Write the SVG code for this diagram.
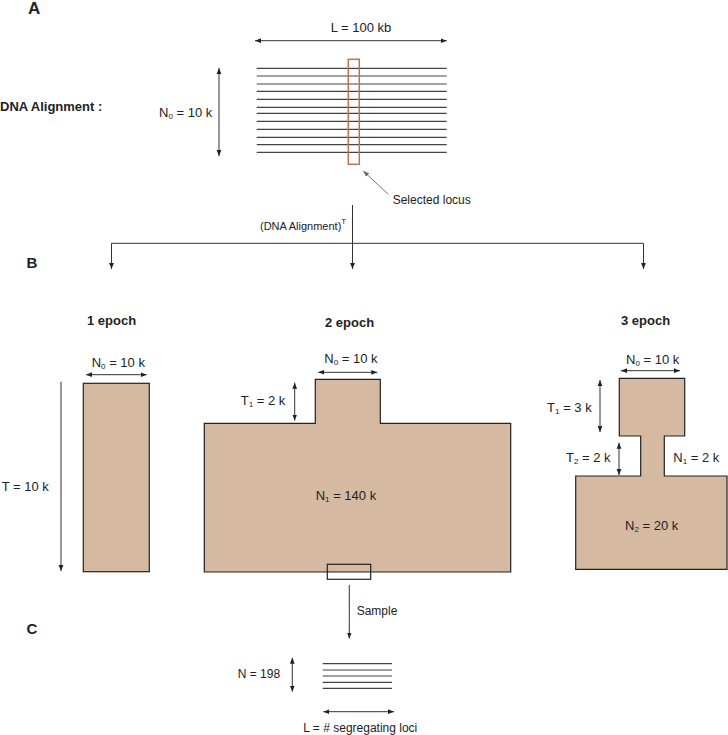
<svg xmlns="http://www.w3.org/2000/svg" width="728" height="735" viewBox="0 0 728 735">
<style>
text{font-family:"Liberation Sans",Arial,sans-serif;fill:#222}
.b{font-weight:bold}
.t13{font-size:13px}
.t12{font-size:12px}
.sub{font-size:8px}
.ln{stroke:#333;stroke-width:1;fill:none}
.al{stroke:#444;stroke-width:1.2}
.pop{fill:#d5baa1;stroke:#222;stroke-width:1.2}
</style>
<defs>
<marker id="ah" viewBox="0 0 10 10" refX="10" refY="5" markerWidth="6" markerHeight="6" markerUnits="userSpaceOnUse" orient="auto-start-reverse">
<path d="M0,1 L10,5 L0,9 z" fill="#222"/>
</marker>
<marker id="ahg" viewBox="0 0 10 10" refX="10" refY="5" markerWidth="6" markerHeight="6" markerUnits="userSpaceOnUse" orient="auto-start-reverse">
<path d="M0,1 L10,5 L0,9 z" fill="#666"/>
</marker>
</defs>
<rect width="728" height="735" fill="#fff"/>

<g id="panel-labels">
<text class="b" x="28" y="14" font-size="17">A</text>
<text class="b" x="26.5" y="268" font-size="15">B</text>
<text class="b" x="26.5" y="634" font-size="15">C</text>
</g>

<g id="alignment">
<text class="b t13" x="0" y="111">DNA Alignment :</text>
<text class="t13" x="361" y="32" text-anchor="middle">L = 100 kb</text>
<text class="t13" x="159" y="117">N<tspan class="sub" dy="2">0</tspan><tspan dy="-2"> = 10 k</tspan></text>
<g class="al">
<line x1="256.7" y1="68.3" x2="446.7" y2="68.3"/>
<line x1="256.7" y1="76" x2="446.7" y2="76"/>
<line x1="256.7" y1="84" x2="446.7" y2="84"/>
<line x1="256.7" y1="91.3" x2="446.7" y2="91.3"/>
<line x1="256.7" y1="99.3" x2="446.7" y2="99.3"/>
<line x1="256.7" y1="107.3" x2="446.7" y2="107.3"/>
<line x1="256.7" y1="113.3" x2="446.7" y2="113.3"/>
<line x1="256.7" y1="121.3" x2="446.7" y2="121.3"/>
<line x1="256.7" y1="129.3" x2="446.7" y2="129.3"/>
<line x1="256.7" y1="137.3" x2="446.7" y2="137.3"/>
<line x1="256.7" y1="144.7" x2="446.7" y2="144.7"/>
<line x1="256.7" y1="152.3" x2="446.7" y2="152.3"/>
</g>
<rect id="locus" x="348.3" y="59.3" width="11" height="105" fill="none" stroke="#b8764f" stroke-width="1.5"/>
<text class="t12" x="392.7" y="204">Selected locus</text>
</g>

<g id="epoch1">
<text class="b t13" x="87" y="325">1 epoch</text>
<rect class="pop" x="83.3" y="383.3" width="66" height="188.4"/>
<text class="t13" x="91.7" y="367">N<tspan class="sub" dy="2">0</tspan><tspan dy="-2"> = 10 k</tspan></text>
<text class="t13" x="1.7" y="491">T = 10 k</text>
</g>

<g id="epoch2">
<text class="b t13" x="325" y="327">2 epoch</text>
<path class="pop" d="M315.3,379.3 H380.3 V423.3 H510.7 V572 H204.3 V423.3 H315.3 Z"/>
<text class="t13" x="324.3" y="363.3">N<tspan class="sub" dy="2">0</tspan><tspan dy="-2"> = 10 k</tspan></text>
<text class="t13" x="240.7" y="405.3">T<tspan class="sub" dy="2">1</tspan><tspan dy="-2"> = 2 k</tspan></text>
<text class="t13" x="315.7" y="500">N<tspan class="sub" dy="2">1</tspan><tspan dy="-2"> = 140 k</tspan></text>
<rect id="sample-box" x="327.3" y="564.3" width="43.4" height="15" fill="none" stroke="#222" stroke-width="1.2"/>
</g>

<g id="epoch3">
<text class="b t13" x="621" y="325">3 epoch</text>
<path class="pop" d="M619.3,378.3 H684.7 V436 H664.3 V476 H727 V569.3 H575.7 V476 H640.7 V436 H619.3 Z"/>
<text class="t13" x="626" y="364">N<tspan class="sub" dy="2">0</tspan><tspan dy="-2"> = 10 k</tspan></text>
<text class="t13" x="591.7" y="411.7" text-anchor="end">T<tspan class="sub" dy="2">1</tspan><tspan dy="-2"> = 3 k</tspan></text>
<text class="t13" x="566" y="461.7">T<tspan class="sub" dy="2">2</tspan><tspan dy="-2"> = 2 k</tspan></text>
<text class="t13" x="673.3" y="461.7">N<tspan class="sub" dy="2">1</tspan><tspan dy="-2"> = 2 k</tspan></text>
<text class="t13" x="625" y="530">N<tspan class="sub" dy="2">2</tspan><tspan dy="-2"> = 20 k</tspan></text>
</g>

<g id="sample-output">
<text class="t12" x="356.7" y="615">Sample</text>
<g class="al">
<line x1="322.7" y1="663.7" x2="392" y2="663.7"/>
<line x1="322.7" y1="670" x2="392" y2="670"/>
<line x1="322.7" y1="676" x2="392" y2="676"/>
<line x1="322.7" y1="682.3" x2="392" y2="682.3"/>
<line x1="322.7" y1="688.3" x2="392" y2="688.3"/>
</g>
<text class="t12" x="237.7" y="678.3">N = 198</text>
<text class="t12" x="303.3" y="731.7">L = # segregating loci</text>
</g>

<g id="connectors">
<text x="260" y="230" font-size="11">(DNA Alignment)<tspan font-size="8" dy="-6">T</tspan></text>
<line class="ln" x1="352.5" y1="205" x2="352.5" y2="269" marker-end="url(#ah)"/>
<line class="ln" x1="111.5" y1="243.3" x2="643.5" y2="243.3"/>
<line class="ln" x1="111.5" y1="243.3" x2="111.5" y2="269" marker-end="url(#ah)"/>
<line class="ln" x1="643.5" y1="243.3" x2="643.5" y2="269" marker-end="url(#ah)"/>
<line class="ln" x1="255" y1="40.7" x2="446.7" y2="40.7" marker-start="url(#ah)" marker-end="url(#ah)"/>
<line class="ln" x1="219" y1="68" x2="219" y2="156" marker-start="url(#ah)" marker-end="url(#ah)"/>
<line x1="388.3" y1="194.3" x2="363.3" y2="171" stroke="#777" stroke-width="1" marker-end="url(#ahg)"/>
<line class="ln" x1="86" y1="374.7" x2="146.7" y2="374.7" stroke="#777" marker-start="url(#ah)" marker-end="url(#ah)"/>
<line class="ln" x1="61" y1="381.7" x2="61" y2="571" marker-end="url(#ah)"/>
<line class="ln" x1="318.3" y1="372.3" x2="377.3" y2="372.3" stroke="#777" marker-start="url(#ah)" marker-end="url(#ah)"/>
<line class="ln" x1="294.7" y1="382.7" x2="294.7" y2="420.5" marker-start="url(#ah)" marker-end="url(#ah)"/>
<line class="ln" x1="621" y1="370.7" x2="680" y2="370.7" stroke="#777" marker-start="url(#ah)" marker-end="url(#ah)"/>
<line class="ln" x1="600" y1="380" x2="600" y2="432" marker-start="url(#ah)" marker-end="url(#ah)"/>
<line class="ln" x1="619" y1="442.7" x2="619" y2="475" marker-start="url(#ah)" marker-end="url(#ah)"/>
<line class="ln" x1="349.3" y1="585" x2="349.3" y2="638.5" marker-end="url(#ah)"/>
<line class="ln" x1="292.3" y1="657.7" x2="292.3" y2="691.7" marker-start="url(#ah)" marker-end="url(#ah)"/>
<line class="ln" x1="323.3" y1="711.7" x2="394" y2="711.7" marker-start="url(#ah)" marker-end="url(#ah)"/>
</g>
</svg>
